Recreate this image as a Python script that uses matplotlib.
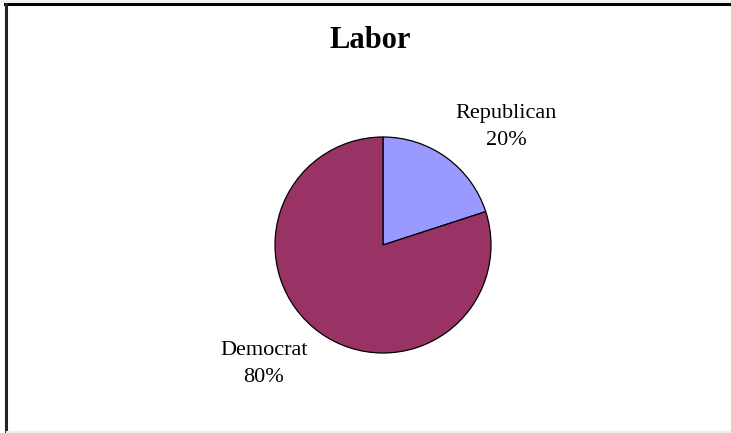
import matplotlib.pyplot as plt
from matplotlib.lines import Line2D

title = "Labor"
parties = ["Republican", "Democrat"]
shares = [20, 80]
colors = ["#9999FF", "#993366"]

W, H = 731, 433


def fx(px):
    return px / W


def fy(py):
    return 1 - py / H


fig = plt.figure(figsize=(W / 100, H / 100), dpi=100)
fig.patch.set_facecolor("white")

# pie axes: centre (383, 245), radius 108 px
cx, cy, r = 383, 245, 108
ax = fig.add_axes([fx(cx - r), fy(cy + r), 2 * r / W, 2 * r / H])
ax.pie(shares, colors=colors, startangle=90, counterclock=False,
       wedgeprops=dict(edgecolor="black", linewidth=0.9))
ax.set_aspect("equal")
ax.set_xlim(-1.0, 1.0)
ax.set_ylim(-1.0, 1.0)
ax.axis("off")

fig.text(fx(370), fy(40), title, ha="center", va="center",
         family="Liberation Serif", fontsize=22, fontweight="bold")

label_pos = [(506, 127), (264, 364)]
for name, val, (lx, ly) in zip(parties, shares, label_pos):
    fig.text(fx(lx), fy(ly), f"{name}\n{val}%", ha="center", va="center",
             multialignment="center", linespacing=1.55,
             family="Liberation Serif", fontsize=16)

# frame lines along the top and left edge
fig.add_artist(Line2D([fx(5), 1], [fy(4), fy(4)], color="black", lw=2.2))
fig.add_artist(Line2D([fx(6), fx(6)], [fy(4), 0], color="#222222", lw=2.2))
fig.add_artist(Line2D([0, 1], [fy(0.5), fy(0.5)], color="#e8e8e8", lw=1))
fig.add_artist(Line2D([fx(7), 1], [fy(432), fy(432)], color="#eeeeee", lw=1.5))

fig.savefig("out.png", dpi=100, facecolor="white")
